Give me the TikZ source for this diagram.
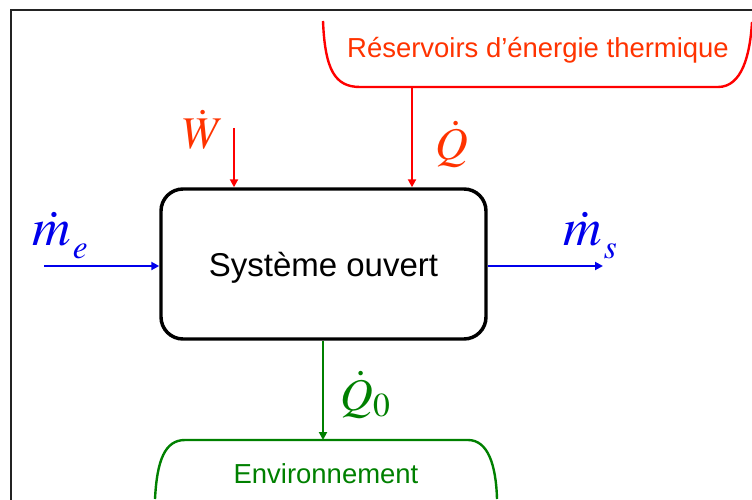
\documentclass[tikz,border=0pt]{standalone}
\usepackage{mathptmx}
\usepackage[no-math]{fontspec}
\setsansfont{Liberation Sans}
\usetikzlibrary{arrows.meta}
\definecolor{resred}{RGB}{255,0,0}
\definecolor{labred}{RGB}{255,51,0}
\definecolor{flowblue}{RGB}{0,0,235}
\definecolor{envgreen}{RGB}{0,128,0}
\definecolor{framegray}{RGB}{35,35,35}

\begin{document}
\begin{tikzpicture}[x=0.75pt,y=-0.75pt,
  flow/.style={line width=1.6pt,-{Triangle[length=6pt,width=6pt]}},
  sym/.style={inner sep=0pt,anchor=base west,font=\fontsize{34}{40}\selectfont},
  msym/.style={sym,font=\fontsize{40}{46}\selectfont},
  lbl/.style={inner sep=0pt,anchor=base,font=\sffamily\fontsize{20.6}{24}\selectfont}]
\useasboundingbox (0,0) rectangle (752,499);
\clip (0,0) rectangle (752,499);

% cadre
\draw[framegray,line width=1.5pt] (11,10) rectangle (800,560);

% reservoirs et environnement
\draw[resred,line width=1.8pt] (323,21) .. controls (325,70) and (335,87) .. (360,87)
  -- (718,87) .. controls (742,87) and (750,55) .. (752,22);
\node[lbl,labred] (res) at (538,58) {Réservoirs d’énergie thermique};

\draw[envgreen,line width=1.8pt] (155,499) .. controls (157,460) and (165,440) .. (185,440)
  -- (468,440) .. controls (488,440) and (496,465) .. (497,499);
\node[lbl,envgreen] (env) at (326,483) {Environnement};

% systeme
\node[draw,line width=2.6pt,rounded corners=16.5pt,minimum width=243.75pt,
  minimum height=112.5pt,text depth=0pt,font=\sffamily\fontsize{24.75}{30}\selectfont]
  (sys) at (323.5,264) {Système ouvert};

% flux
\coordinate (win) at (234,128);
\coordinate (qin) at (412,87);
\coordinate (min) at (44,266);
\coordinate (mout) at (603,266);
\coordinate (qout) at (323,440);

\draw[flow,resred] (win) -- (win |- sys.north);
\draw[flow,resred] (qin) -- (qin |- sys.north);
\draw[flow,flowblue] (min) -- (min -| sys.west);
\draw[flow,flowblue] (sys.east |- mout) -- (mout);
\draw[flow,envgreen] (sys.south -| qout) -- (qout);

\node[sym,labred] (wlab) at (182,148) {$\dot{W}$};
\node[sym,labred] (qlab) at (435,160) {$\dot{Q}$};
\node[msym,flowblue] (melab) at (32,245)
  {$\dot{m}_{\mkern1mu\raisebox{-4pt}{\fontsize{25}{28}\selectfont$e$}}$};
\node[msym,flowblue] (mslab) at (563,245)
  {$\dot{m}_{\mkern1mu\raisebox{-4pt}{\fontsize{25}{28}\selectfont$s$}}$};
\node[sym,envgreen] (q0lab) at (340,410) {$\dot{Q}_0$};

\end{tikzpicture}
\end{document}
